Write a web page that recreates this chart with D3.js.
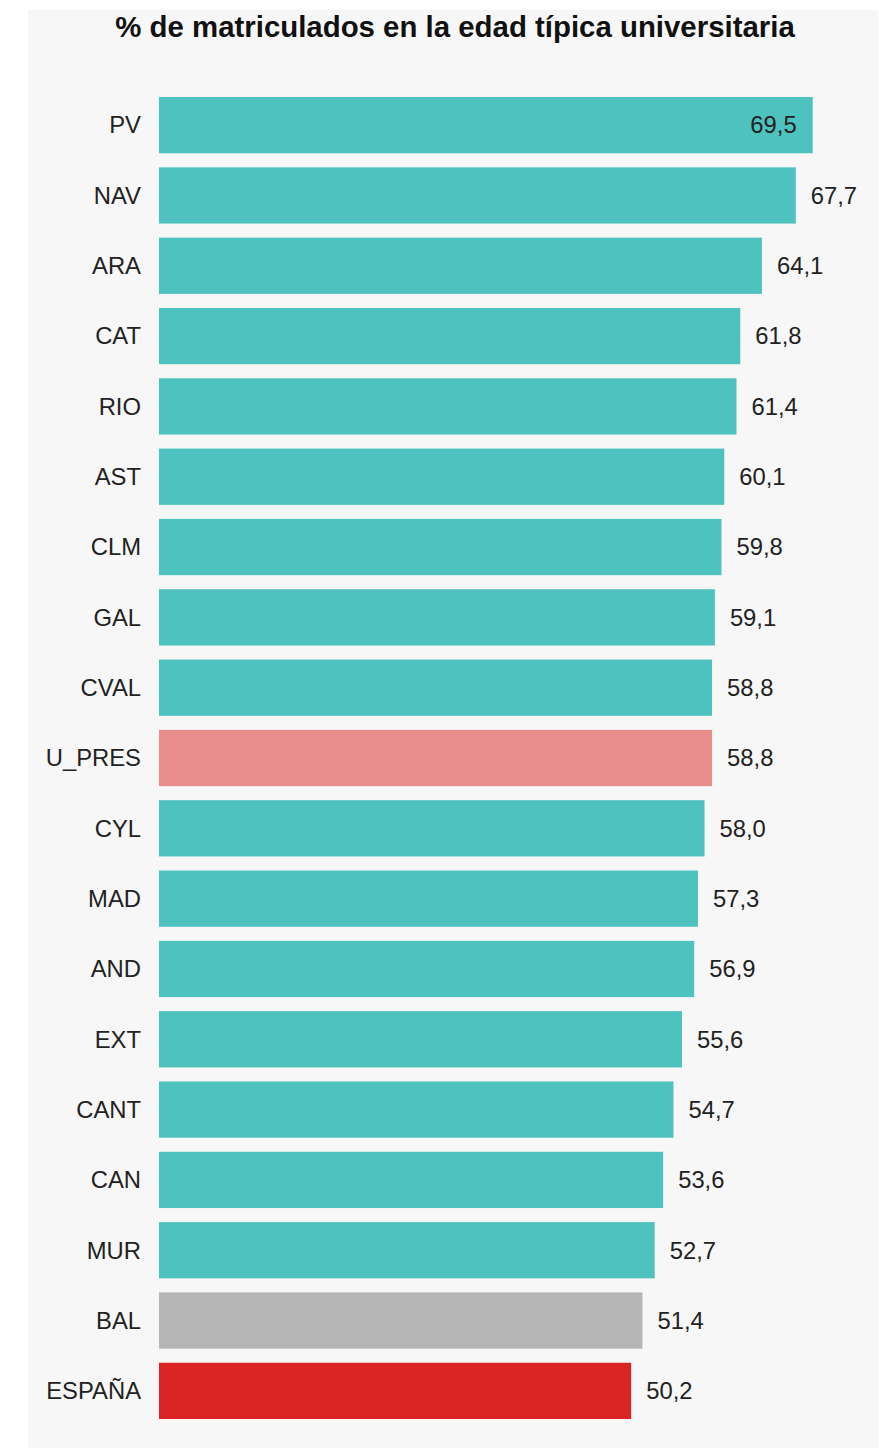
<!DOCTYPE html>
<html>
<head>
<meta charset="utf-8">
<script src="https://cdn.jsdelivr.net/npm/d3@7"></script>
<style>
  body { margin: 0; background: #fff; font-family: "Liberation Sans", Arial, sans-serif; }
</style>
</head>
<body>
<div id="chart"></div>
<script>
// data
const regions = ['PV','NAV','ARA','CAT','RIO','AST','CLM','GAL','CVAL','U_PRES','CYL','MAD','AND','EXT','CANT','CAN','MUR','BAL','ESPAÑA'];
const values  = [69.5, 67.7, 64.1, 61.8, 61.4, 60.1, 59.8, 59.1, 58.8, 58.8, 58.0, 57.3, 56.9, 55.6, 54.7, 53.6, 52.7, 51.4, 50.2];
const highlight = { 'U_PRES': '#e88e8c', 'BAL': '#b5b5b5', 'ESPAÑA': '#da2323' };
const baseColor = '#4ec2be';

const width = 879, height = 1448;
const svg = d3.select('#chart').append('svg')
    .attr('width', width).attr('height', height);

// light panel
svg.append('rect')
    .attr('x', 28).attr('y', 10)
    .attr('width', 850).attr('height', height - 10)
    .attr('fill', '#f7f7f7');

svg.append('text')
    .attr('x', 455).attr('y', 37)
    .attr('text-anchor', 'middle')
    .style('font-size', '29.4px').style('font-weight', 'bold')
    .style('fill', '#111')
    .text('% de matriculados en la edad típica universitaria');

const data = regions.map((r, i) => ({ region: r, value: values[i] }));

const x = d3.scaleLinear().domain([0, d3.max(values)]).range([159, 812.7]);
const y = d3.scaleBand().domain(regions).range([97, 1419])
    .paddingInner(0.2).paddingOuter(0);
const fmt = v => d3.format('.1f')(v).replace('.', ',');

const rows = svg.append('g').selectAll('g').data(data).join('g');

rows.append('rect')
    .attr('x', x(0))
    .attr('y', d => y(d.region))
    .attr('width', d => x(d.value) - x(0))
    .attr('height', y.bandwidth())
    .attr('fill', d => highlight[d.region] || baseColor);

rows.append('text')
    .attr('x', 141)
    .attr('y', d => y(d.region) + y.bandwidth() / 2)
    .attr('dy', '0.35em')
    .attr('text-anchor', 'end')
    .style('font-size', '23.8px')
    .style('fill', '#222')
    .text(d => d.region);

// largest value sits inside its bar, the rest just past the bar end
const maxV = d3.max(values);
rows.append('text')
    .attr('x', d => d.value === maxV ? x(d.value) - 16 : x(d.value) + 15)
    .attr('y', d => y(d.region) + y.bandwidth() / 2)
    .attr('dy', '0.35em')
    .attr('text-anchor', d => d.value === maxV ? 'end' : 'start')
    .style('font-size', '23.8px')
    .style('fill', '#222')
    .text(d => fmt(d.value));
</script>
</body>
</html>
